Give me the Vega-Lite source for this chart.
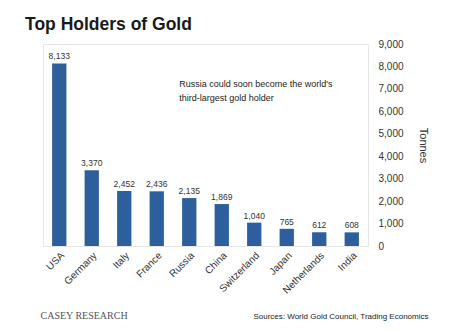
{
  "$schema": "https://vega.github.io/schema/vega-lite/v6.json",
  "autosize": "none",
  "width": 325,
  "height": 202,
  "padding": {"left": 43, "top": 44, "right": 104, "bottom": 86},
  "background": "white",
  "config": {
    "font": "Liberation Sans",
    "view": {"stroke": "#e6e6e6", "strokeWidth": 1}
  },
  "title": {
    "text": "Top Holders of Gold",
    "anchor": "start",
    "frame": "group",
    "font": "Liberation Sans",
    "fontSize": 17.5,
    "fontWeight": "bold",
    "color": "#1a1a1a",
    "dx": -18,
    "offset": 6
  },
  "data": {
    "values": [
      {"country": "USA", "tonnes": 8133},
      {"country": "Germany", "tonnes": 3370},
      {"country": "Italy", "tonnes": 2452},
      {"country": "France", "tonnes": 2436},
      {"country": "Russia", "tonnes": 2135},
      {"country": "China", "tonnes": 1869},
      {"country": "Switzerland", "tonnes": 1040},
      {"country": "Japan", "tonnes": 765},
      {"country": "Netherlands", "tonnes": 612},
      {"country": "India", "tonnes": 608}
    ]
  },
  "encoding": {
    "x": {
      "field": "country",
      "type": "nominal",
      "sort": null,
      "scale": {"paddingInner": 0.56, "paddingOuter": 0.28}
    }
  },
  "layer": [
    {
      "mark": {"type": "bar", "color": "#2c5f9b"},
      "encoding": {
        "x": {
          "field": "country",
          "type": "nominal",
          "sort": null,
          "axis": {
            "title": "Sources: World Gold Council, Trading Economics",
            "titleFont": "Liberation Sans",
            "titleFontSize": 8,
            "titleFontWeight": "normal",
            "titleColor": "#222",
            "titleAnchor": "end",
            "titleAlign": "right",
            "titleX": 385,
            "titleY": 66,
            "labelAngle": -45,
            "labelFontSize": 10,
            "labelColor": "#333",
            "labelPadding": 4,
            "ticks": false,
            "domain": false
          }
        },
        "y": {
          "field": "tonnes",
          "type": "quantitative",
          "scale": {"domain": [0, 9000]},
          "axis": {
            "orient": "right",
            "values": [0, 1000, 2000, 3000, 4000, 5000, 6000, 7000, 8000, 9000],
            "labelExpr": "format(datum.value, ',')",
            "grid": false,
            "ticks": false,
            "domain": false,
            "labelFontSize": 10,
            "labelColor": "#333",
            "labelPadding": 10,
            "title": "Tonnes",
            "titleAngle": 90,
            "titleFontSize": 11,
            "titleFontWeight": "normal",
            "titleColor": "#333",
            "titlePadding": 14
          }
        }
      }
    },
    {
      "mark": {"type": "text", "dy": -7, "fontSize": 8.5, "color": "#333", "font": "Liberation Sans"},
      "encoding": {
        "y": {
          "field": "tonnes",
          "type": "quantitative",
          "axis": {
            "orient": "left",
            "labels": false,
            "ticks": false,
            "domain": false,
            "grid": false,
            "title": "CASEY RESEARCH",
            "titleAngle": 0,
            "titleFont": "Liberation Serif",
            "titleFontSize": 10,
            "titleFontWeight": "normal",
            "titleColor": "#555",
            "titleAlign": "left",
            "titleBaseline": "middle",
            "titleX": -3,
            "titleY": 271
          }
        },
        "text": {"field": "tonnes", "type": "quantitative", "format": ","}
      }
    },
    {
      "data": {
        "values": [
          {"country": "Russia", "tonnes": 7230, "line": "Russia could soon become the world's"},
          {"country": "Russia", "tonnes": 6600, "line": "third-largest gold holder"}
        ]
      },
      "mark": {"type": "text", "align": "left", "dx": -10, "fontSize": 9, "color": "#222", "font": "Liberation Sans"},
      "encoding": {
        "y": {"field": "tonnes", "type": "quantitative", "axis": null},
        "text": {"field": "line"}
      }
    }
  ],
  "resolve": {"axis": {"y": "independent"}}
}
